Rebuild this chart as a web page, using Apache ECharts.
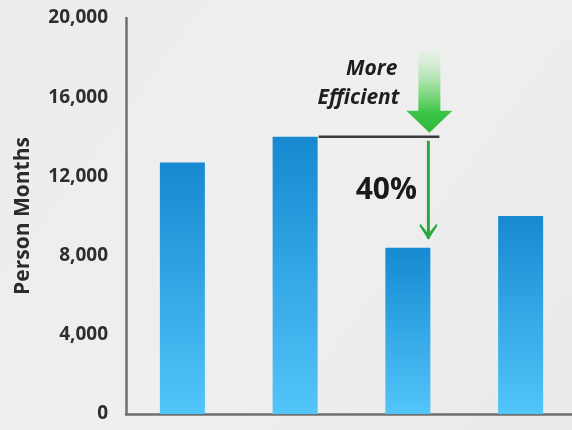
<!DOCTYPE html>
<html>
<head>
<meta charset="utf-8">
<script src="https://cdn.jsdelivr.net/npm/echarts@6/dist/echarts.min.js"></script>
<style>
  html, body { margin: 0; padding: 0; background: #ececec; overflow: hidden; }
  /* the plot runs slightly past the right edge of the window */
  #chart { width: 578px; height: 430px; }
</style>
</head>
<body>
<div id="chart"></div>
<script>
// Effort per project, in person months
const categories = ['Project 1', 'Project 2', 'Project 3', 'Project 4'];
const personMonths = [12700, 14000, 8400, 10000];
const yTicks = [0, 4000, 8000, 12000, 16000, 20000];

// The comparison drawn between the second and third bars
const fromIndex = 1;
const toIndex = 2;

const chart = echarts.init(document.getElementById('chart'), null, { renderer: 'canvas' });
const FONT = '"Open Sans", "DejaVu Sans", sans-serif';
const BAR_W = 45;

const option = {
  animation: false,
  backgroundColor: {
    type: 'linear', x: 0, y: 0, x2: 1, y2: 1,
    colorStops: [
      { offset: 0, color: '#ececec' },
      { offset: 0.5, color: '#efefef' },
      { offset: 1, color: '#eaeaea' }
    ]
  },
  grid: { left: 126, right: 1, top: 18, bottom: 16 },
  xAxis: {
    type: 'category',
    data: categories,
    axisLine: { lineStyle: { color: '#6f6f6f', width: 2.5 } },
    axisTick: { show: false },
    axisLabel: { show: false }
  },
  yAxis: {
    type: 'value',
    min: yTicks[0],
    max: yTicks[yTicks.length - 1],
    interval: yTicks[1] - yTicks[0],
    name: 'Person Months',
    nameLocation: 'middle',
    nameGap: 92,
    nameRotate: 90,
    nameTextStyle: { fontFamily: FONT, fontWeight: 'bold', fontSize: 21, color: '#2b2b2b' },
    axisLine: { show: true, lineStyle: { color: '#6f6f6f', width: 2.5 } },
    axisTick: { show: false },
    splitLine: { show: false },
    axisLabel: {
      margin: 18,
      fontFamily: FONT,
      fontWeight: 'bold',
      fontSize: 19,
      color: '#2e2e2e',
      formatter: v => v.toLocaleString('en-US')
    }
  },
  series: [{
    type: 'bar',
    data: personMonths,
    barWidth: BAR_W,
    itemStyle: {
      color: {
        type: 'linear', x: 0, y: 0, x2: 0, y2: 1,
        colorStops: [
          { offset: 0, color: '#1689d1' },
          { offset: 1, color: '#52c5fa' }
        ]
      },
      shadowColor: 'rgba(255,255,255,0.9)',
      shadowBlur: 4
    }
  }]
};

chart.setOption(option);

// Annotation: reference line, reduction arrow and captions placed from the axes
function drawAnnotation() {
  const from = chart.convertToPixel({ seriesIndex: 0 }, [fromIndex, personMonths[fromIndex]]);
  const to = chart.convertToPixel({ seriesIndex: 0 }, [toIndex, personMonths[toIndex]]);
  const half = BAR_W / 2;
  const arrowX = to[0] + half - 2;
  const lineStart = from[0] + half + 1;
  const lineEnd = arrowX + 11;
  const pct = Math.round((1 - personMonths[toIndex] / personMonths[fromIndex]) * 100);

  const green = '#2aa83a';
  const elements = [
    // horizontal reference at the higher bar's value
    { type: 'line', shape: { x1: lineStart, y1: from[1], x2: lineEnd, y2: from[1] },
      style: { stroke: '#3a3a3a', lineWidth: 2.5 } },
    // thin arrow from the higher value down to the lower value
    { type: 'line', shape: { x1: arrowX, y1: from[1] + 4, x2: arrowX, y2: to[1] - 9 },
      style: { stroke: green, lineWidth: 3 } },
    { type: 'polygon',
      shape: { points: [[arrowX - 9, to[1] - 22], [arrowX, to[1] - 8], [arrowX + 9, to[1] - 22], [arrowX + 8, to[1] - 24], [arrowX, to[1] - 14], [arrowX - 8, to[1] - 24]] },
      style: { fill: green } },
    // big gradient arrow pointing down onto the reference line
    { type: 'polygon',
      shape: { points: [
        [arrowX - 10, from[1] - 86], [arrowX + 12, from[1] - 86],
        [arrowX + 12, from[1] - 26], [arrowX + 24, from[1] - 26],
        [arrowX + 1, from[1] - 4], [arrowX - 22, from[1] - 26],
        [arrowX - 10, from[1] - 26]
      ] },
      style: {
        fill: {
          type: 'linear', x: 0, y: 0, x2: 0, y2: 1,
          colorStops: [
            { offset: 0, color: 'rgba(200,240,200,0.2)' },
            { offset: 0.45, color: 'rgba(120,215,120,0.75)' },
            { offset: 0.75, color: '#3cc447' },
            { offset: 1, color: '#2fb83c' }
          ]
        }
      } },
    // captions
    { type: 'text', x: arrowX - 31, y: from[1] - 68,
      style: { text: 'More', fontFamily: FONT, fontWeight: 'bold', fontStyle: 'italic',
               fontSize: 21, fill: '#1e1e1e', align: 'right', verticalAlign: 'middle' } },
    { type: 'text', x: arrowX - 29, y: from[1] - 39,
      style: { text: 'Efficient', fontFamily: FONT, fontWeight: 'bold', fontStyle: 'italic',
               fontSize: 21, fill: '#1e1e1e', align: 'right', verticalAlign: 'middle' } },
    { type: 'text', x: arrowX - 42, y: (from[1] + to[1]) / 2 - 2,
      style: { text: pct + '%', fontFamily: FONT, fontWeight: 'bold',
               fontSize: 30, fill: '#1a1a1a', align: 'center', verticalAlign: 'middle' } }
  ];
  chart.setOption({ graphic: { elements } });
}

drawAnnotation();
</script>
</body>
</html>
